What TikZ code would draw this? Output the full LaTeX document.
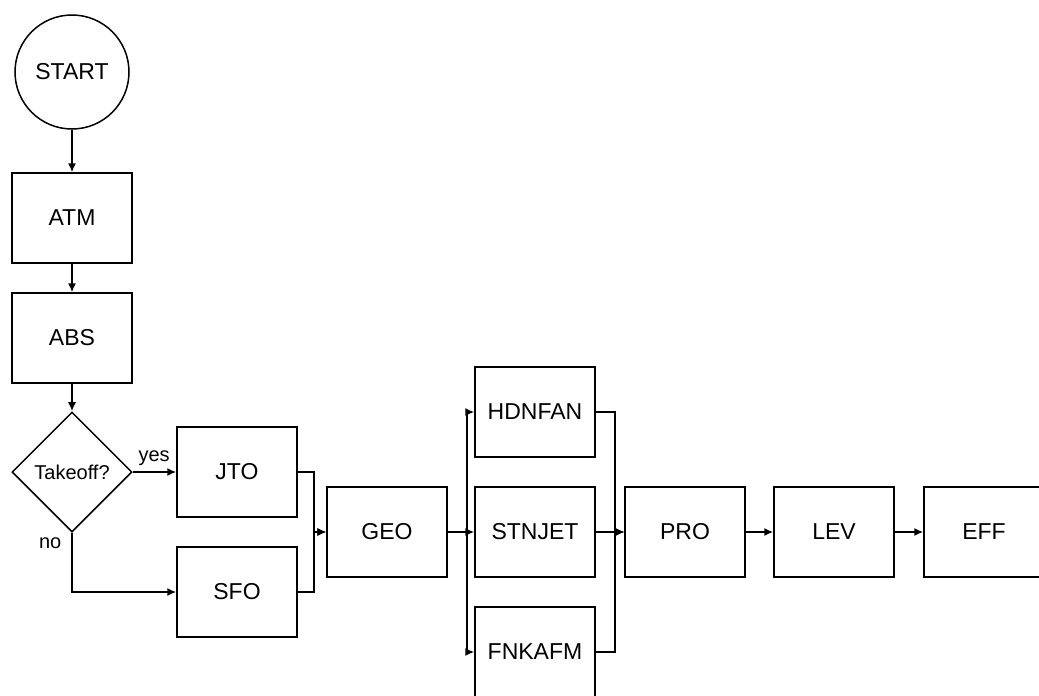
\documentclass[tikz,border=0pt]{standalone}
\usepackage{fontspec}
\setmainfont{Liberation Sans}
\usepackage{tikz}
\usetikzlibrary{positioning}
\usetikzlibrary{shapes.geometric}
\usetikzlibrary{arrows.meta}

\begin{document}
\begin{tikzpicture}[x=0.5pt, y=-0.5pt, line width=0.75pt, >={Latex[length=4.5pt,width=4pt]},
        module/.style={rectangle, draw=black, minimum width=60pt, minimum height=45pt, inner sep=0pt, font=\fontsize{11.5}{13}\selectfont},
        terminal/.style={circle, draw=black, minimum size=57pt, inner sep=0pt, font=\fontsize{11.5}{13}\selectfont},
        decision/.style={diamond, draw=black, minimum width=60pt, minimum height=60pt, inner sep=0pt, font=\fontsize{10}{12}\selectfont},
        answer/.style={font=\fontsize{10}{12}\selectfont, inner sep=1pt}
      ]
        \useasboundingbox (0,0) rectangle (1039,696);

        \node[terminal] (start)  at (72,72)                            {START};
        \node[module]   (atm)    [below of=start, node distance=73pt] {ATM};
        \node[module]   (abs)    [below of=atm, node distance=60pt]   {ABS};
        \node[decision] (takeoff) [below of=abs, node distance=67pt]  {Takeoff?};
        \node[module]   (jto)    [right of=takeoff, node distance=82.5pt] {JTO};
        \node[module]   (sfo)    [below of=jto, node distance=60pt]   {SFO};
        \node[module]   (geo)    [right of=jto, node distance=75pt, yshift=-30pt] {GEO};
        \node[module]   (stnjet) [right of=geo, node distance=74pt]   {STNJET};
        \node[module]   (hdnfan) [above of=stnjet, node distance=60pt] {HDNFAN};
        \node[module]   (fnkafm) [below of=stnjet, node distance=60pt] {FNKAFM};
        \node[module]   (pro)    [right of=stnjet, node distance=75pt] {PRO};
        \node[module]   (lev)    [right of=pro, node distance=74.5pt]  {LEV};
        \node[module]   (eff)    [right of=lev, node distance=75pt]    {EFF};

        \draw[->] (start) -- (atm);
        \draw[->] (atm) -- (abs);
        \draw[->] (abs) -- (takeoff);

        \draw[->] (takeoff.east) -- (jto.west);
        \node[answer, anchor=south west, xshift=1.5pt, yshift=2pt] (yes) at (takeoff.east) {yes};
        \draw[->] (takeoff.south) |- (sfo.west);
        \node[answer, anchor=north east, xshift=-4pt, yshift=-1pt] (no) at (takeoff.south) {no};

        % merge into GEO
        \draw[->] (jto.east) -- ++(8pt,0) |- (geo.west);
        \draw[->] (sfo.east) -- ++(8pt,0) |- (geo.west);

        % split into the three modules
        \draw[->] (geo.east) -- ++(9.5pt,0) |- (hdnfan.west);
        \draw[->] (geo.east) -- (stnjet.west);
        \draw[->] (geo.east) -- ++(9.5pt,0) |- (fnkafm.west);

        \draw[->] (hdnfan.east) -- ++(9.5pt,0) |- (pro.west);
        \draw[->] (stnjet.east) -- (pro.west);
        \draw[->] (fnkafm.east) -- ++(9.5pt,0) |- (pro.west);

        \draw[->] (pro) -- (lev);
        \draw[->] (lev) -- (eff);
      \end{tikzpicture}
\end{document}
